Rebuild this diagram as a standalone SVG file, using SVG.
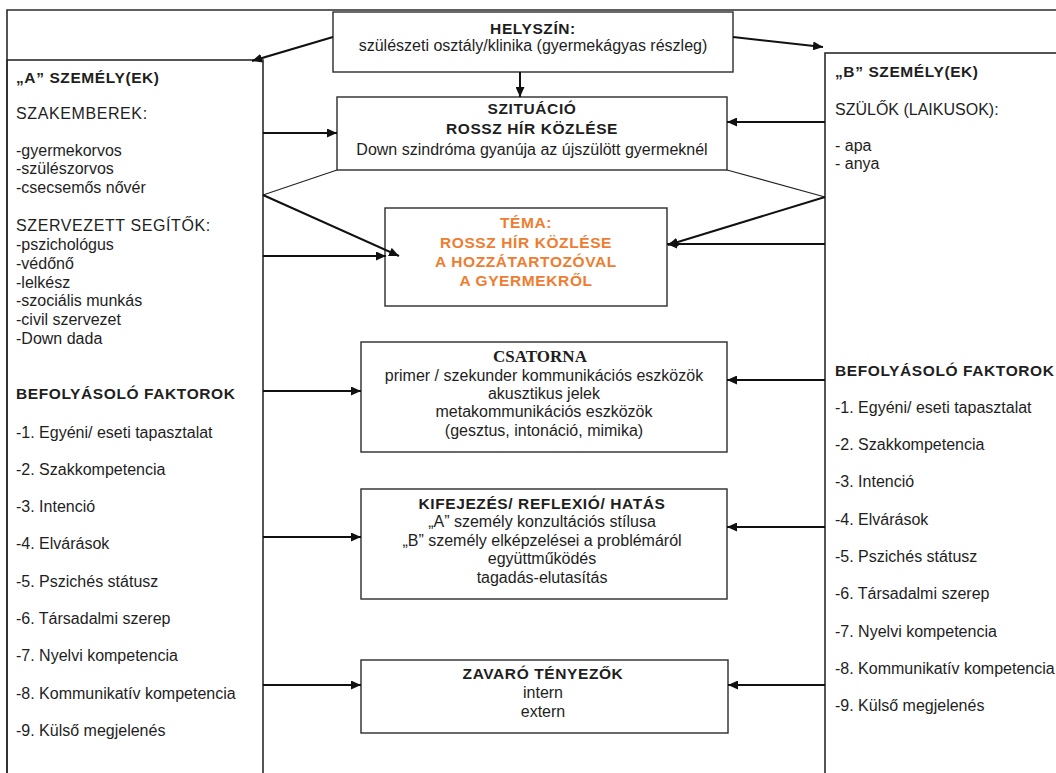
<svg xmlns="http://www.w3.org/2000/svg" width="1056" height="773" viewBox="0 0 1056 773">
<style>
.frame{fill:none;stroke:#2b2b2b;stroke-width:1.6}
.box{fill:#fff;stroke:#2b2b2b;stroke-width:1.4}
.t{font-family:"Liberation Sans",Arial,sans-serif;font-size:16px;fill:#1e1e1e}
.u{letter-spacing:0.6px}
.b{font-family:"Liberation Sans",Arial,sans-serif;font-size:15.5px;font-weight:bold;fill:#1e1e1e;letter-spacing:0.6px}
.bs{font-family:"Liberation Serif","Times New Roman",serif;font-size:17px;font-weight:bold;fill:#1e1e1e}
.o{font-family:"Liberation Sans",Arial,sans-serif;font-size:15.5px;font-weight:bold;fill:#EE7D31;letter-spacing:0.6px}
.c{text-anchor:middle}
.arr{fill:none;stroke:#111;stroke-width:2;marker-end:url(#ah)}
.thin{fill:none;stroke:#222;stroke-width:1.1}
</style>
<defs>
<marker id="ah" markerUnits="userSpaceOnUse" markerWidth="10" markerHeight="9" refX="10" refY="4.5" orient="auto">
<path d="M0,0 L10,4.5 L0,9 z" fill="#111"/>
</marker>
</defs>
<rect width="1056" height="773" fill="#fff"/>
<path class="frame" d="M7,780 V10 H1060"/>

<g id="personA">
<rect class="frame" x="7" y="60" width="256" height="730"/>
<text class="b" x="16" y="83">„A” SZEMÉLY(EK)</text>
<text class="t u" x="16" y="119">SZAKEMBEREK:</text>
<text class="t" x="16" y="156">-gyermekorvos</text>
<text class="t" x="16" y="174">-szülészorvos</text>
<text class="t" x="16" y="193">-csecsemős nővér</text>
<text class="t u" x="16" y="231">SZERVEZETT SEGÍTŐK:</text>
<text class="t" x="16" y="250">-pszichológus</text>
<text class="t" x="16" y="269">-védőnő</text>
<text class="t" x="16" y="288">-lelkész</text>
<text class="t" x="16" y="306">-szociális munkás</text>
<text class="t" x="16" y="325">-civil szervezet</text>
<text class="t" x="16" y="344">-Down dada</text>
<text class="b" x="16" y="399">BEFOLYÁSOLÓ FAKTOROK</text>
<text class="t" x="16" y="438">-1. Egyéni/ eseti tapasztalat</text>
<text class="t" x="16" y="475">-2. Szakkompetencia</text>
<text class="t" x="16" y="512">-3. Intenció</text>
<text class="t" x="16" y="549">-4. Elvárások</text>
<text class="t" x="16" y="587">-5. Pszichés státusz</text>
<text class="t" x="16" y="624">-6. Társadalmi szerep</text>
<text class="t" x="16" y="661">-7. Nyelvi kompetencia</text>
<text class="t" x="16" y="699">-8. Kommunikatív kompetencia</text>
<text class="t" x="16" y="736">-9. Külső megjelenés</text>
</g>

<g id="personB">
<rect class="frame" x="825" y="53" width="240" height="740"/>
<text class="b" x="835" y="77">„B” SZEMÉLY(EK)</text>
<text class="t" x="835" y="115">SZÜLŐK (LAIKUSOK):</text>
<text class="t" x="835" y="151">- apa</text>
<text class="t" x="835" y="169">- anya</text>
<text class="b" x="835" y="376">BEFOLYÁSOLÓ FAKTOROK</text>
<text class="t" x="835" y="413">-1. Egyéni/ eseti tapasztalat</text>
<text class="t" x="835" y="450">-2. Szakkompetencia</text>
<text class="t" x="835" y="487">-3. Intenció</text>
<text class="t" x="835" y="525">-4. Elvárások</text>
<text class="t" x="835" y="562">-5. Pszichés státusz</text>
<text class="t" x="835" y="599">-6. Társadalmi szerep</text>
<text class="t" x="835" y="637">-7. Nyelvi kompetencia</text>
<text class="t" x="835" y="674">-8. Kommunikatív kompetencia</text>
<text class="t" x="835" y="711">-9. Külső megjelenés</text>
</g>

<g id="helyszin">
<rect class="box" x="333" y="12" width="400" height="60"/>
<text class="b c" x="533" y="34">HELYSZÍN:</text>
<text class="t c" x="533" y="51">szülészeti osztály/klinika (gyermekágyas részleg)</text>
</g>

<g id="szituacio">
<rect class="box" x="337" y="97" width="390" height="73"/>
<text class="b c" x="532" y="114">SZITUÁCIÓ</text>
<text class="b c" x="532" y="134">ROSSZ HÍR KÖZLÉSE</text>
<text class="t c" x="532" y="155">Down szindróma gyanúja az újszülött gyermeknél</text>
</g>

<g id="tema">
<rect class="box" x="385" y="208" width="282" height="98"/>
<text class="o c" x="526" y="228">TÉMA:</text>
<text class="o c" x="526" y="248">ROSSZ HÍR KÖZLÉSE</text>
<text class="o c" x="526" y="267">A HOZZÁTARTOZÓVAL</text>
<text class="o c" x="526" y="286">A GYERMEKRŐL</text>
</g>

<g id="csatorna">
<rect class="box" x="361" y="342" width="366" height="110"/>
<text class="bs c" x="540" y="362">CSATORNA</text>
<text class="t c" x="544" y="381">primer / szekunder kommunikációs eszközök</text>
<text class="t c" x="544" y="399">akusztikus jelek</text>
<text class="t c" x="544" y="417">metakommunikációs eszközök</text>
<text class="t c" x="544" y="436">(gesztus, intonáció, mimika)</text>
</g>

<g id="kifejezes">
<rect class="box" x="361" y="489" width="366" height="110"/>
<text class="b c" x="542" y="509">KIFEJEZÉS/ REFLEXIÓ/ HATÁS</text>
<text class="t c" x="542" y="527">„A” személy konzultációs stílusa</text>
<text class="t c" x="542" y="546">„B” személy elképzelései a problémáról</text>
<text class="t c" x="542" y="564">együttműködés</text>
<text class="t c" x="542" y="583">tagadás-elutasítás</text>
</g>

<g id="zavaro">
<rect class="box" x="361" y="660" width="367" height="73"/>
<text class="b c" x="543" y="679">ZAVARÓ TÉNYEZŐK</text>
<text class="t c" x="543" y="698">intern</text>
<text class="t c" x="543" y="717">extern</text>
</g>

<g id="connectors">
<path class="arr" d="M333,37 L252,61"/>
<path class="arr" d="M733,37 L823,47"/>
<path class="arr" d="M520,72 L520,97"/>
<path class="arr" d="M263,133 L337,133"/>
<path class="arr" d="M825,122 L727,122"/>
<path class="thin" d="M337,170 L263,195"/>
<path class="arr" d="M263,195 L399,256"/>
<path class="arr" d="M263,256 L386,256"/>
<path class="thin" d="M727,170 L825,197"/>
<path class="arr" d="M825,197 L668,245"/>
<path class="arr" d="M825,244 L667,244"/>
<path class="arr" d="M263,391 L361,391"/>
<path class="arr" d="M825,380 L727,380"/>
<path class="arr" d="M263,537 L361,537"/>
<path class="arr" d="M825,527 L727,527"/>
<path class="arr" d="M263,685 L361,685"/>
<path class="arr" d="M825,685 L728,685"/>
</g>
</svg>
